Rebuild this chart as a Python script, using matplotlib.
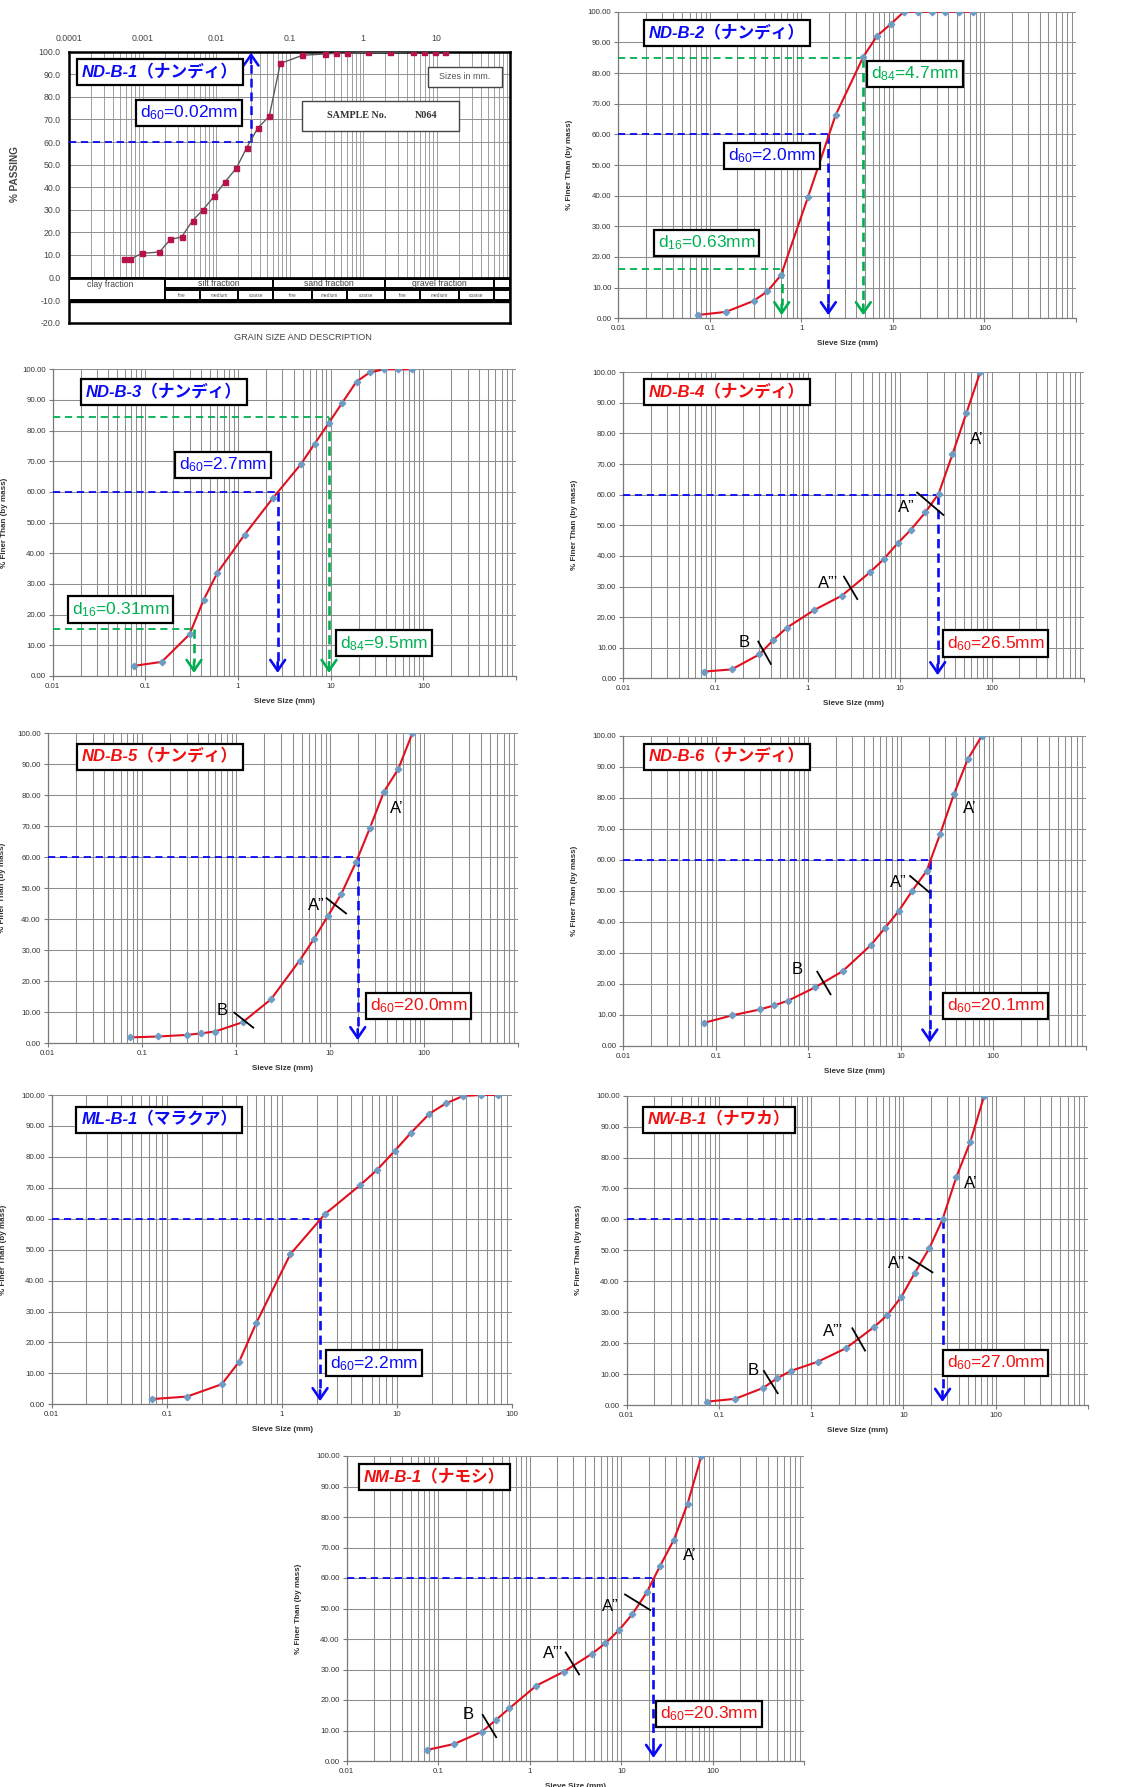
#!/usr/bin/env python3
"""Grain size distribution curves for nine river-bed samples (d60 / d16 / d84 readings)."""

import matplotlib
matplotlib.use('Agg')
import matplotlib.pyplot as plt
import numpy as np
from matplotlib.patches import Rectangle
from matplotlib.ticker import FixedLocator, FixedFormatter, LogLocator, NullFormatter

plt.rcParams['font.family'] = ['Liberation Sans', 'Noto Sans CJK JP', 'DejaVu Sans']
plt.rcParams['mathtext.fontset'] = 'custom'
plt.rcParams['mathtext.rm'] = 'Liberation Sans'
plt.rcParams['mathtext.it'] = 'Liberation Sans:italic'
plt.rcParams['mathtext.bf'] = 'Liberation Sans:bold'

# ---------------- data ----------------
SIEVE_MM = [0.075, 0.15, 0.3, 0.425, 0.6, 1.18, 2.36, 4.75, 6.7, 9.5, 13.2, 19, 26.5, 37.5, 53, 75]

# ND-B-1 (hydrometer + sieve, sample N064)
ND_B1_SIZE = [0.00056, 0.00068, 0.00098, 0.0017, 0.0024, 0.0034, 0.0048, 0.0067, 0.0095,
              0.0133, 0.0188, 0.0262, 0.037, 0.053, 0.075, 0.15, 0.3, 0.425, 0.6, 1.18,
              2.36, 4.75, 6.7, 9.5, 13.2]
ND_B1_PASS = [8.1, 8.1, 10.7, 11.3, 16.9, 17.9, 25.2, 30.1, 36.1, 42.4, 48.3, 57.5, 66.2,
              71.4, 94.8, 98.4, 99.0, 99.3, 99.3, 99.7, 99.7, 100, 100, 100, 100]

ND_B2_PASS = [1.1, 2.1, 5.65, 8.8, 14.1, 39.5, 66.2, 85.3, 92.1, 96.0, 100, 100, 100, 100, 100, 100]
ND_B3_PASS = [3.3, 4.6, 13.6, 24.8, 33.7, 46.1, 57.9, 69.0, 75.7, 82.4, 88.9, 96.0, 99.0, 100, 100, 100]
ND_B4_PASS = [2.2, 2.9, 7.8, 12.5, 16.6, 22.3, 27.0, 34.6, 38.9, 44.1, 48.5, 54.2, 60.3, 73.2, 86.6, 100]
ND_B5_PASS = [1.9, 2.2, 2.7, 3.2, 3.8, 6.8, 14.2, 26.7, 33.5, 41.1, 48.2, 58.6, 69.4, 81.2, 88.4, 100]
ND_B6_PASS = [7.4, 9.8, 11.7, 13.0, 14.5, 18.8, 24.1, 32.5, 37.9, 43.5, 49.9, 56.4, 68.2, 81.2, 92.5, 100]
ML_B1_PASS = [1.7, 2.5, 6.5, 13.8, 26.4, 48.5, 61.5, 70.8, 75.8, 81.9, 87.8, 93.9, 97.3, 99.7, 100, 100]
NW_B1_PASS = [1.1, 2.0, 5.5, 8.6, 11.0, 14.0, 18.3, 25.1, 29.1, 35.0, 42.6, 50.6, 60.0, 73.8, 85.1, 100]
NM_B1_PASS = [3.6, 5.6, 9.6, 13.4, 17.3, 24.7, 29.3, 35.1, 38.6, 43.0, 48.1, 55.3, 63.9, 72.5, 84.3, 100]

# characteristic diameters: (% passing level, size read on the curve, label)
ND_B1_D = [(60, 0.030, 'd$_{60}$=0.02mm')]
ND_B2_D = [(85, 4.75, 'd$_{84}$=4.7mm'), (60, 1.97, 'd$_{60}$=2.0mm'), (16, 0.61, 'd$_{16}$=0.63mm')]
ND_B3_D = [(84.3, 9.6, 'd$_{84}$=9.5mm'), (60, 2.68, 'd$_{60}$=2.7mm'), (15.3, 0.335, 'd$_{16}$=0.31mm')]
ND_B4_D = [(60, 25.9, 'd$_{60}$=26.5mm')]
ND_B5_D = [(60, 19.7, 'd$_{60}$=20.0mm')]
ND_B6_D = [(60, 20.6, 'd$_{60}$=20.1mm')]
ML_B1_D = [(60, 2.14, 'd$_{60}$=2.2mm')]
NW_B1_D = [(60, 26.5, 'd$_{60}$=27.0mm')]
NM_B1_D = [(60, 22.5, 'd$_{60}$=20.3mm')]

# segment break marks: (label, label x, label y, tick x1, tick y1, tick x2, tick y2)
ND_B4_MARKS = [('A’', 69, 78, None, None, None, None),
               ('A”', 11.9, 55.8, 15.5, 60.7, 29.8, 53.4),
               ('A”’', 1.68, 31.0, 2.49, 33.2, 3.47, 25.9),
               ('B', 0.206, 11.7, 0.292, 12.0, 0.40, 4.7)]
ND_B5_MARKS = [('A’', 51.2, 75.8, None, None, None, None),
               ('A”', 7.1, 44.6, 9.2, 46.8, 14.8, 41.9),
               ('B', 0.72, 10.5, 0.96, 9.9, 1.53, 5.05)]
ND_B6_MARKS = [('A’', 56, 76.6, None, None, None, None),
               ('A”', 9.4, 52.7, 12.6, 54.8, 20.2, 49.6),
               ('B', 0.76, 24.6, 1.25, 23.9, 1.74, 16.6)]
NW_B1_MARKS = [('A’', 53.5, 71.6, None, None, None, None),
               ('A”', 8.4, 45.8, 11.5, 47.7, 20.6, 42.9),
               ('A”’', 1.74, 23.7, 2.79, 24.8, 3.83, 17.6),
               ('B', 0.236, 11.0, 0.307, 11.0, 0.433, 3.8)]
NM_B1_MARKS = [('A’', 56.5, 67.5, None, None, None, None),
               ('A”', 7.5, 50.6, 11.0, 54.6, 20.7, 49.5),
               ('A”’', 1.8, 35.3, 2.47, 35.6, 3.46, 28.4),
               ('B', 0.214, 15.1, 0.306, 15.1, 0.43, 7.8)]

# soil classification boundaries (mm) for the ND-B-1 description table
FRACTIONS = ['silt fraction', 'sand fraction', 'gravel fraction']
FRACTION_EDGES = [0.002, 0.06, 2, 60]
SUB_EDGES = [[0.002, 0.006, 0.02, 0.06], [0.06, 0.2, 0.6, 2], [2, 6, 20, 60]]
SUB_NAMES = ['fine', 'medium', 'coarse']

# ---------------- style ----------------
W, H = 1126, 1787
BLUE = '#0A0AF5'
RED = '#F01010'
GREEN = '#00B050'
CURVE = '#E0101E'
MARK = '#6E9CC4'
GRID = '#8E8E8E'
TICKTXT = '#333333'

fig = plt.figure(figsize=(W / 100, H / 100), dpi=100)


def axes_px(left, top, right, bottom):
    return fig.add_axes([left / W, 1 - bottom / H, (right - left) / W, (bottom - top) / H])


def box_text(ax, x, y, s, color, size, bold=False, italic=False, pad=0.22):
    ax.text(x, y, s, transform=ax.transAxes, ha='center', va='center', color=color,
            fontsize=size, fontweight='bold' if bold else 'normal',
            style='italic' if italic else 'normal', zorder=8,
            bbox=dict(boxstyle=f'square,pad={pad}', fc='white', ec='black', lw=1.6))


def guide(ax, level, size, color, x0, up=False):
    ax.plot([x0, size], [level, level], color=color, lw=1.3, dashes=(4, 2.6), zorder=3)
    hs = '->,head_length=0.55,head_width=0.38'
    if up:
        ax.plot([size, size], [level, 95], color=color, lw=1.8, dashes=(3.5, 2), zorder=3)
        ax.annotate('', xy=(size, 99.6), xytext=(size, 95), zorder=5,
                    arrowprops=dict(arrowstyle=hs, color=color, lw=1.8, mutation_scale=14,
                                    shrinkA=0, shrinkB=0))
    else:
        ax.plot([size, size], [level, 4.5], color=color, lw=1.9, dashes=(3.5, 2), zorder=3)
        ax.annotate('', xy=(size, 1.0), xytext=(size, 4.5), zorder=5,
                    arrowprops=dict(arrowstyle=hs, color=color, lw=1.9, mutation_scale=14,
                                    shrinkA=0, shrinkB=0))


def excel_panel(rect, passing, title, tcolor, title_xy, dvals, dboxes, marks=(), xmax=1000):
    left, top, right, bottom = rect
    ax = axes_px(left, top, right, bottom)
    ax.set_xscale('log')
    ax.set_xlim(0.01, xmax)
    ax.set_ylim(0, 100)

    decades = [0.01, 0.1, 1, 10, 100, 1000]
    labels = ['0.01', '0.1', '1', '10', '100', '']
    ticks = [d for d in decades if d <= xmax]
    ax.xaxis.set_major_locator(FixedLocator(ticks))
    ax.xaxis.set_major_formatter(FixedFormatter(labels[:len(ticks)]))
    ax.xaxis.set_minor_locator(LogLocator(base=10, subs=np.arange(2, 10)))
    ax.xaxis.set_minor_formatter(NullFormatter())
    ax.yaxis.set_major_locator(FixedLocator(np.arange(0, 101, 10)))
    ax.yaxis.set_major_formatter(lambda v, p: f'{v:.2f}')

    ax.grid(True, which='both', axis='x', color=GRID, lw=0.75)
    ax.grid(True, which='major', axis='y', color=GRID, lw=0.75)
    ax.set_axisbelow(True)
    for side in ['top', 'right']:
        ax.spines[side].set_visible(False)
    for side in ['left', 'bottom']:
        ax.spines[side].set_color('#7a7a7a')
        ax.spines[side].set_linewidth(0.9)
    ax.tick_params(which='major', labelsize=5.7, labelcolor=TICKTXT, length=3,
                   color='#7a7a7a', pad=2)
    ax.tick_params(which='minor', length=0)

    ax.set_ylabel('% Finer Than (by mass)', fontsize=5.8, fontweight='bold', color=TICKTXT)
    ax.yaxis.set_label_coords(-min(45, left - 6) / (right - left), 0.5)
    ax.set_xlabel('Sieve Size (mm)', fontsize=5.8, fontweight='bold', color=TICKTXT)
    ax.xaxis.set_label_coords(0.5, -22 / (bottom - top))

    ax.plot(SIEVE_MM, passing, color=CURVE, lw=1.5, marker='D', ms=3.3,
            mfc=MARK, mec=MARK, zorder=4)

    for (level, size, label), (bx, by) in zip(dvals, dboxes):
        line_color = BLUE if level == 60 else GREEN
        text_color = tcolor if level == 60 else GREEN
        guide(ax, level, size, line_color, 0.01)
        box_text(ax, bx, by, label, text_color, 12.5)

    for name, tx, ty, x1, y1, x2, y2 in marks:
        ax.text(tx, ty, name, fontsize=12, ha='center', va='center', color='black', zorder=6)
        if x1 is not None:
            ax.plot([x1, x2], [y1, y2], color='black', lw=1.3, zorder=6)

    box_text(ax, title_xy[0], title_xy[1], title, tcolor, 12, bold=True, italic=True, pad=0.3)
    return ax


# ---------------- ND-B-1 : hydrometer chart ----------------
P1 = (69, 51.7, 510, 322.7)
ax1 = axes_px(*P1)
ax1.set_xscale('log')
ax1.set_xlim(1e-4, 100)
ax1.set_ylim(-20, 100)
ax1.xaxis.tick_top()
ax1.xaxis.set_major_locator(FixedLocator([1e-4, 1e-3, 1e-2, 1e-1, 1, 10, 100]))
ax1.xaxis.set_major_formatter(FixedFormatter(['0.0001', '0.001', '0.01', '0.1', '1', '10', '']))
ax1.xaxis.set_minor_locator(LogLocator(base=10, subs=np.arange(2, 10)))
ax1.xaxis.set_minor_formatter(NullFormatter())
ax1.yaxis.set_major_locator(FixedLocator(np.arange(-20, 101, 10)))
ax1.yaxis.set_major_formatter(lambda v, p: f'{v:.1f}')
ax1.tick_params(which='both', length=0, labelsize=6.3, labelcolor='#444444', pad=6)
ax1.grid(True, which='both', axis='x', color='#a0a0a0', lw=0.7)
ax1.grid(True, which='major', axis='y', color='#909090', lw=0.7)
ax1.set_axisbelow(True)
for sp in ax1.spines.values():
    sp.set_linewidth(1.8)
    sp.set_color('black')

# description table below 0 %
ax1.add_patch(Rectangle((1e-4, -20), 100, 20, fc='white', ec='none', zorder=2))
cell = dict(fc='white', ec='black', lw=1.4, zorder=3)
ax1.add_patch(Rectangle((1e-4, -10), FRACTION_EDGES[0] - 1e-4, 10, **cell))
ax1.text(0.00036, -3.2, 'clay fraction', fontsize=6.2, color='#444444', ha='center',
         va='center', zorder=4)
for name, lo, hi, subs in zip(FRACTIONS, FRACTION_EDGES[:-1], FRACTION_EDGES[1:], SUB_EDGES):
    ax1.add_patch(Rectangle((lo, -4.6), hi - lo, 4.0, **cell))
    ax1.text(np.sqrt(lo * hi), -2.6, name, fontsize=6.2, color='#444444', ha='center',
             va='center', zorder=4)
    for sname, a, b in zip(SUB_NAMES, subs[:-1], subs[1:]):
        ax1.add_patch(Rectangle((a, -9.9), b - a, 4.4, **cell))
        ax1.text(np.sqrt(a * b), -7.8, sname, fontsize=3.4, color='#555555', ha='center',
                 va='center', zorder=4)
ax1.add_patch(Rectangle((FRACTION_EDGES[-1], -4.6), 100 - FRACTION_EDGES[-1], 4.0, **cell))
ax1.add_patch(Rectangle((FRACTION_EDGES[-1], -9.9), 100 - FRACTION_EDGES[-1], 4.4, **cell))
ax1.axhline(0, color='black', lw=2.0, zorder=4)
ax1.axhline(-10.6, color='black', lw=2.4, zorder=4)

ax1.plot(ND_B1_SIZE, ND_B1_PASS, color='#5a5a5a', lw=1.0, marker='s', ms=3.6,
         mfc='#B8124E', mec='#B8124E', zorder=5)
for level, size, label in ND_B1_D:
    guide(ax1, level, size, BLUE, 1e-4, up=True)
    box_text(ax1, 0.272, 0.775, label, BLUE, 12.5)
box_text(ax1, 0.2056, 0.924, 'ND-B-1（ナンディ）', BLUE, 12, bold=True, italic=True, pad=0.3)

ax1.add_patch(Rectangle((0.814, 0.870), 0.168, 0.074, transform=ax1.transAxes, fc='white',
                        ec='#444444', lw=1.0, zorder=6))
ax1.text(0.898, 0.907, 'Sizes in mm.', transform=ax1.transAxes, fontsize=6.4,
         color='#555555', ha='center', va='center', zorder=7)
ax1.add_patch(Rectangle((0.528, 0.707), 0.356, 0.111, transform=ax1.transAxes, fc='white',
                        ec='#444444', lw=1.0, zorder=6))
ax1.text(0.652, 0.763, 'SAMPLE No.', transform=ax1.transAxes, fontsize=7.3,
         family='Liberation Serif', fontweight='bold', color='#333333', ha='center',
         va='center', zorder=7)
ax1.text(0.809, 0.763, 'N064', transform=ax1.transAxes, fontsize=7.3,
         family='Liberation Serif', fontweight='bold', color='#333333', ha='center',
         va='center', zorder=7)
ax1.text(-54 / 441, 0.55, '% PASSING', transform=ax1.transAxes, rotation=90, fontsize=7.2,
         fontweight='bold', color='#444444', ha='center', va='center')
ax1.text(0.531, -0.055, 'GRAIN SIZE AND DESCRIPTION', transform=ax1.transAxes, fontsize=6.6,
         color='#444444', ha='center', va='center')

# ---------------- Excel style panels ----------------
excel_panel((618.3, 11.7, 1076, 318.3), ND_B2_PASS, 'ND-B-2（ナンディ）', BLUE,
            (0.237, 0.930), ND_B2_D, [(0.648, 0.797), (0.336, 0.530), (0.193, 0.246)])
excel_panel((52.7, 369.3, 516, 676), ND_B3_PASS, 'ND-B-3（ナンディ）', BLUE,
            (0.240, 0.926), ND_B3_D, [(0.715, 0.107), (0.368, 0.689), (0.146, 0.217)])
excel_panel((623.3, 372.3, 1083.8, 678.3), ND_B4_PASS, 'ND-B-4（ナンディ）', RED,
            (0.225, 0.936), ND_B4_D, [(0.809, 0.114)], ND_B4_MARKS)
excel_panel((47.7, 733.3, 518.2, 1043.3), ND_B5_PASS, 'ND-B-5（ナンディ）', RED,
            (0.238, 0.925), ND_B5_D, [(0.788, 0.121)], ND_B5_MARKS)
excel_panel((623.3, 736, 1085.8, 1045.7), ND_B6_PASS, 'ND-B-6（ナンディ）', RED,
            (0.224, 0.933), ND_B6_D, [(0.805, 0.128)], ND_B6_MARKS)
excel_panel((51.7, 1095, 512.3, 1404.3), ML_B1_PASS, 'ML-B-1（マラクア）', BLUE,
            (0.234, 0.920), ML_B1_D, [(0.700, 0.133)], xmax=100)
excel_panel((626.7, 1095.7, 1088, 1405), NW_B1_PASS, 'NW-B-1（ナワカ）', RED,
            (0.2005, 0.923), NW_B1_D, [(0.7995, 0.136)], NW_B1_MARKS)
excel_panel((346.7, 1456, 804.3, 1761), NM_B1_PASS, 'NM-B-1（ナモシ）', RED,
            (0.192, 0.931), NM_B1_D, [(0.792, 0.155)], NM_B1_MARKS)

fig.savefig('out.png', dpi=100)
